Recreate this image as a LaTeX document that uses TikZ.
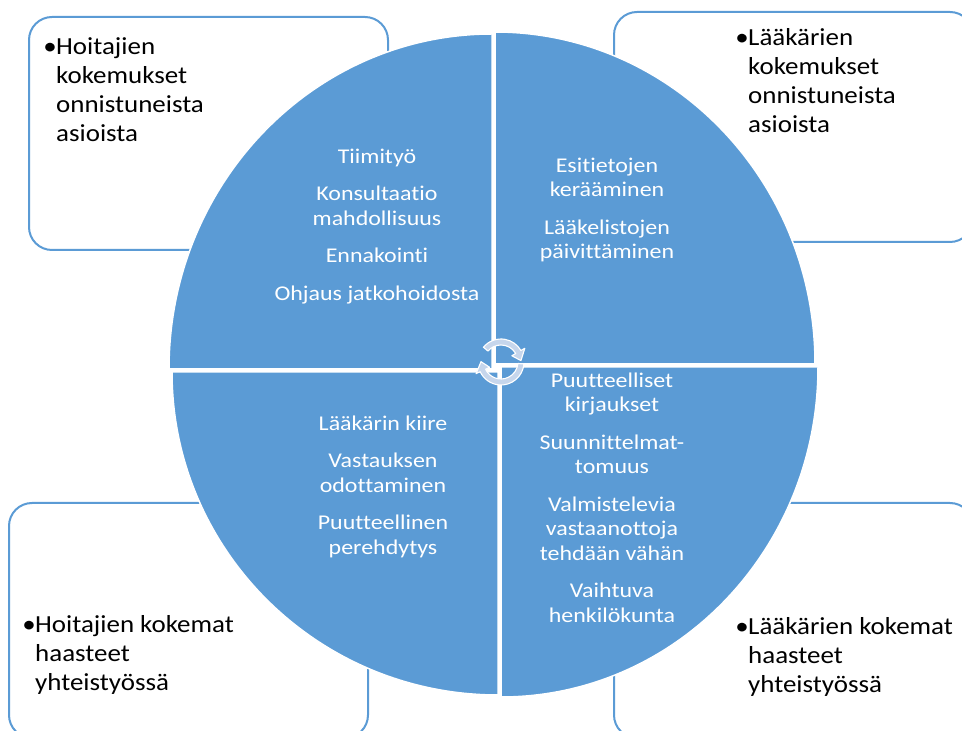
\documentclass[tikz,border=0pt]{standalone}
\usepackage{fontspec}
\setmainfont{Carlito}[Ligatures={NoCommon,NoContextual}]
\newfontfamily\circfont{Carlito}[FakeStretch=1.14, Ligatures={NoCommon,NoContextual}]
\newfontfamily\boxfont{Carlito}[FakeStretch=1.1, Ligatures={NoCommon,NoContextual}]
\definecolor{accent}{RGB}{91,155,213}
\definecolor{cyclefill}{RGB}{198,214,236}
\tikzset{
  x=1pt, y=1pt,
  framebox/.style={draw=accent, line width=2pt, rounded corners=23pt, fill=white},
  quarter/.style={fill=accent, draw=white, line width=1.5pt},
  innertext/.style={anchor=north, inner sep=0pt, align=center, text=white,
    font=\circfont\fontsize{21}{24.5}\selectfont},
  boxtext/.style={anchor=north west, inner sep=0pt, align=left, text=black,
    font=\boxfont\fontsize{24.5}{29}\selectfont},
  cyclearrow/.style={fill=cyclefill, draw=white, line width=1.1pt, line join=round}
}
\newcommand{\bul}{\makebox[12pt][c]{•}}
\newcommand{\ind}{\hspace*{12pt}}
\newcommand{\tstrut}{\rule{0pt}{18pt}}
\newcommand{\bstrut}{\rule{0pt}{21pt}}
\begin{document}
\begin{tikzpicture}
\useasboundingbox (0,0) rectangle (962,731);

% outer rounded boxes
\draw[framebox] (29,481) rectangle (388,714);
\draw[framebox] (614,489) rectangle (973,719);
\draw[framebox] (9,-7) rectangle (368,228);
\draw[framebox] (614,-7) rectangle (973,228);

% four quarter sectors of the central disc
\draw[quarter] (492,362) coordinate (qtl) -- ++(-323,0)
  arc[start angle=180, end angle=90, x radius=323, y radius=335] -- cycle;
\draw[quarter] (495,367) coordinate (qtr) -- ++(0,332)
  arc[start angle=90, end angle=0, x radius=320, y radius=332] -- cycle;
\draw[quarter] (498,359) coordinate (qbl) -- ++(0,-323)
  arc[start angle=270, end angle=180, x radius=326, y radius=323] -- cycle;
\draw[quarter] (501,364) coordinate (qbr) -- ++(317,0)
  arc[start angle=0, end angle=-90, x radius=317, y radius=330] -- cycle;

% texts inside the sectors
\node[innertext] (ttl) at (377,586) {\tstrut Tiimityö\\[13pt]Konsultaatio\\mahdollisuus\\[13pt]Ennakointi\\[13pt]Ohjaus jatkohoidosta};
\node[innertext] (ttr) at (607,577) {\tstrut Esitietojen\\kerääminen\\[13pt]Lääkelistojen\\päivittäminen};
\node[innertext] (tbl) at (383,319) {\tstrut Lääkärin kiire\\[13pt]Vastauksen\\odottaminen\\[13pt]Puutteellinen\\perehdytys};
\node[innertext] (tbr) at (612,362) {\tstrut Puutteelliset\\kirjaukset\\[13pt]Suunnittelmat-\\tomuus\\[13pt]Valmistelevia\\vastaanottoja\\tehdään vähän\\[13pt]Vaihtuva\\henkilökunta};

% texts in the boxes
\node[boxtext] (btl) at (44,698) {\bstrut\bul Hoitajien\\\ind kokemukset\\\ind onnistuneista\\\ind asioista};
\node[boxtext] (btr) at (736,707) {\bstrut\bul Lääkärien\\\ind kokemukset\\\ind onnistuneista\\\ind asioista};
\node[boxtext] (bbl) at (23,120) {\bstrut\bul Hoitajien kokemat\\\ind haasteet\\\ind yhteistyössä};
\node[boxtext] (bbr) at (736,118) {\bstrut\bul Lääkärien kokemat\\\ind haasteet\\\ind yhteistyössä};

% circular arrows in the middle
\coordinate (cyc) at (501,369);
\begin{scope}[shift={(cyc)}]
  \draw[cyclearrow] (140:23) arc[start angle=140, end angle=30, radius=23]
    -- (30:27.5) -- (4:20) -- (30:12.5) -- (30:17)
    arc[start angle=30, end angle=140, radius=17] -- cycle;
  \draw[cyclearrow] (-5:23) arc[start angle=-5, end angle=-155, radius=23]
    -- (-155:27.5) -- (-181:20) -- (-155:12.5) -- (-155:17)
    arc[start angle=-155, end angle=-5, radius=17] -- cycle;
\end{scope}
\end{tikzpicture}
\end{document}
